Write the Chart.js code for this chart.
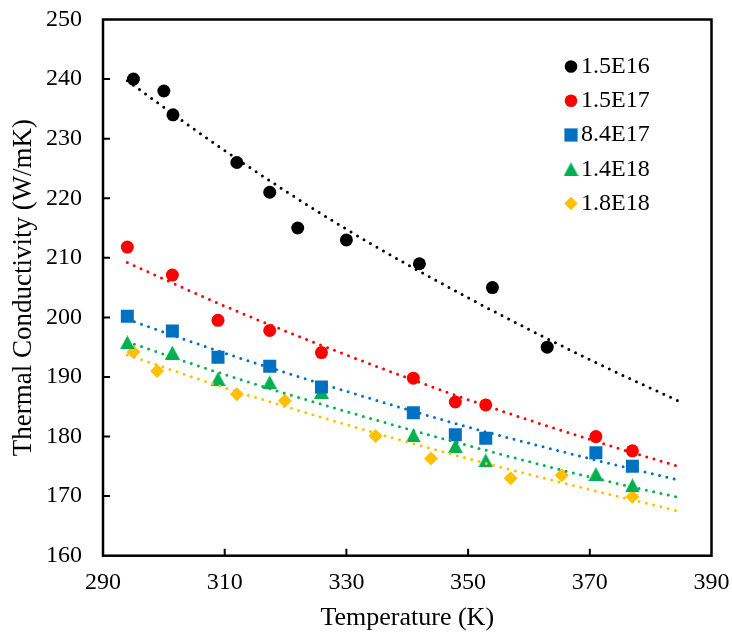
<!DOCTYPE html>
<html><head><meta charset="utf-8">
<script src="https://cdn.jsdelivr.net/npm/chart.js@4.4.1/dist/chart.umd.min.js"></script>
<style>html,body{margin:0;padding:0;background:#fff;} canvas{display:block;}</style>
</head><body>
<canvas id="c" width="732" height="635"></canvas>
<script>
// ---- data ----
const seriesLabels = ['1.5E16', '1.5E17', '8.4E17', '1.4E18', '1.8E18'];
const seriesColors = ['#000000', '#FF0000', '#0070C0', '#00B050', '#FFC000'];

const tempA = [295, 300, 301.5, 312, 317.4, 322, 330, 342, 354, 363];
const kA    = [240, 238, 234, 226, 221, 215, 213, 209, 205, 195];

const tempB = [294, 301.4, 308.9, 317.4, 325.9, 341, 347.9, 352.9, 371, 377];
const kB    = [211.8, 207.1, 199.5, 197.8, 194.1, 189.8, 185.8, 185.3, 180.0, 177.6];

const tempC = [294, 301.4, 308.9, 317.4, 325.9, 341, 347.9, 352.9, 371, 377];
const kC    = [200.2, 197.7, 193.3, 191.8, 188.3, 184.0, 180.3, 179.7, 177.3, 175.0];

const tempD = [294, 301.4, 308.9, 317.4, 325.9, 341, 347.9, 352.9, 371, 377];
const kD    = [195.8, 194.1, 189.7, 189.1, 187.5, 180.2, 178.4, 176.0, 173.7, 171.8];

const tempE = [295, 298.9, 312, 319.9, 334.8, 343.9, 357, 365.4, 377];
const kE    = [194.2, 191.0, 187.1, 186.0, 180.1, 176.3, 173.0, 173.5, 169.9];

// trend lines (dotted)
const trendT = [294, 310, 330, 350, 370, 384.5];
const trendA = [239.7, 228.0, 214.8, 203.3, 192.9, 186.0];
const trendB = [209.2, 201.9, 193.7, 186.2, 179.5, 175.0];
const trendC = [199.7, 194.0, 187.6, 181.6, 176.3, 172.7];
const trendD = [195.9, 190.4, 184.2, 178.5, 173.2, 169.8];
const trendE = [193.7, 188.2, 182.0, 176.3, 171.1, 167.5];

const xTickValues = [290, 310, 330, 350, 370, 390];
const yTickValues = [160, 170, 180, 190, 200, 210, 220, 230, 240, 250];

// ---- build ----
const FAMILY = "'Liberation Serif', 'Times New Roman', serif";
function pts(xs, ys) { return xs.map((x, i) => ({x: x, y: ys[i]})); }

function triangleCanvas(color, w, h) {
  const cv = document.createElement('canvas');
  cv.width = w; cv.height = h;
  const c = cv.getContext('2d');
  c.fillStyle = color;
  c.beginPath(); c.moveTo(w / 2, 0); c.lineTo(w, h); c.lineTo(0, h); c.closePath(); c.fill();
  return cv;
}
const triImg = triangleCanvas(seriesColors[3], 15, 14);

const markerStyles = ['circle', 'circle', 'rect', triImg, 'rectRot'];
const markerRadii = [6.5, 6.5, 9.2, 8, 7];

const scatterSets = [[tempA, kA], [tempB, kB], [tempC, kC], [tempD, kD], [tempE, kE]];
const trendSets = [trendA, trendB, trendC, trendD, trendE];

const datasets = [];
trendSets.forEach((tr, i) => {
  datasets.push({
    label: 'trend ' + seriesLabels[i],
    data: pts(trendT, tr),
    showLine: true, pointRadius: 0, pointHoverRadius: 0,
    borderColor: seriesColors[i], borderWidth: 3,
    borderDash: [0, 7.5], borderCapStyle: 'round',
    cubicInterpolationMode: 'monotone',
    fill: false, order: 0
  });
});
scatterSets.forEach((s, i) => {
  datasets.push({
    label: seriesLabels[i],
    data: pts(s[0], s[1]),
    showLine: false,
    pointStyle: markerStyles[i], pointRadius: markerRadii[i], pointHoverRadius: markerRadii[i],
    backgroundColor: seriesColors[i], borderColor: seriesColors[i], borderWidth: 0,
    order: 1
  });
});

const framePlugin = {
  id: 'frame',
  afterDatasetsDraw(chart) {
    const {ctx, chartArea: a, scales: {x, y}} = chart;
    ctx.save();
    ctx.strokeStyle = '#000';
    ctx.lineWidth = 2;
    ctx.beginPath();
    x.ticks.forEach(t => {
      const px = x.getPixelForValue(t.value);
      if (px > a.left + 1 && px < a.right - 1) { ctx.moveTo(px, a.bottom); ctx.lineTo(px, a.bottom - 7); }
    });
    y.ticks.forEach(t => {
      const py = y.getPixelForValue(t.value);
      if (py > a.top + 1 && py < a.bottom - 1) { ctx.moveTo(a.left, py); ctx.lineTo(a.left + 7, py); }
    });
    ctx.stroke();
    ctx.lineWidth = 2.5;
    ctx.strokeRect(a.left, a.top, a.right - a.left, a.bottom - a.top);
    ctx.restore();
  }
};

const legendPlugin = {
  id: 'customLegend',
  afterDraw(chart) {
    const ctx = chart.ctx;
    const mx = 571, tx = 581, y0 = 66.5, dy = 34.25;
    ctx.save();
    ctx.font = '24px ' + FAMILY;
    ctx.textBaseline = 'middle';
    ctx.textAlign = 'left';
    seriesLabels.forEach((lab, i) => {
      const yy = y0 + i * dy;
      ctx.fillStyle = seriesColors[i];
      const st = markerStyles[i];
      if (st === 'circle') {
        ctx.beginPath(); ctx.arc(mx, yy, 6.3, 0, Math.PI * 2); ctx.fill();
      } else if (st === 'rect') {
        ctx.fillRect(mx - 6.6, yy - 6.6, 13.2, 13.2);
      } else if (st === 'rectRot') {
        ctx.beginPath(); ctx.moveTo(mx, yy - 6.7); ctx.lineTo(mx + 6.7, yy); ctx.lineTo(mx, yy + 6.7); ctx.lineTo(mx - 6.7, yy); ctx.closePath(); ctx.fill();
      } else {
        ctx.drawImage(st, mx - st.width / 2, yy - st.height / 2);
      }
      ctx.fillStyle = '#000';
      ctx.fillText(lab, tx, yy);
    });
    ctx.restore();
  }
};

Chart.defaults.color = '#000';
new Chart(document.getElementById('c'), {
  type: 'scatter',
  data: {datasets: datasets},
  options: {
    responsive: false, animation: false, devicePixelRatio: 1,
    layout: {padding: {top: 19.5, right: 20.5, left: 0, bottom: 0}},
    plugins: {legend: {display: false}, tooltip: {enabled: false}},
    scales: {
      x: {
        type: 'linear', min: 290, max: 390, offset: false,
        grid: {display: false, drawTicks: false}, border: {display: false},
        afterBuildTicks(s) { s.ticks = xTickValues.map(v => ({value: v})); },
        ticks: {padding: 15, color: '#000', font: {family: FAMILY, size: 24, lineHeight: 1}},
        title: {display: true, text: 'Temperature (K)', color: '#000',
                font: {family: FAMILY, size: 26, lineHeight: 1}, padding: {top: 0, bottom: 4}},
        afterFit(s) { s.height = 79.3; s.paddingLeft = 0; s.paddingRight = 0; s.paddingTop = 0; s.paddingBottom = 0; }
      },
      y: {
        type: 'linear', min: 160, max: 250, offset: false,
        grid: {display: false, drawTicks: false}, border: {display: false},
        afterBuildTicks(s) { s.ticks = yTickValues.map(v => ({value: v})); },
        ticks: {padding: 21, color: '#000', font: {family: FAMILY, size: 24, lineHeight: 1}},
        title: {display: true, text: 'Thermal Conductivity (W/mK)', color: '#000',
                font: {family: FAMILY, size: 27, lineHeight: 1}, padding: {top: 10.7, bottom: 0}},
        afterFit(s) { s.width = 103; s.paddingLeft = 0; s.paddingRight = 0; s.paddingTop = 0; s.paddingBottom = 0; }
      }
    }
  },
  plugins: [framePlugin, legendPlugin]
});
</script>
</body></html>
